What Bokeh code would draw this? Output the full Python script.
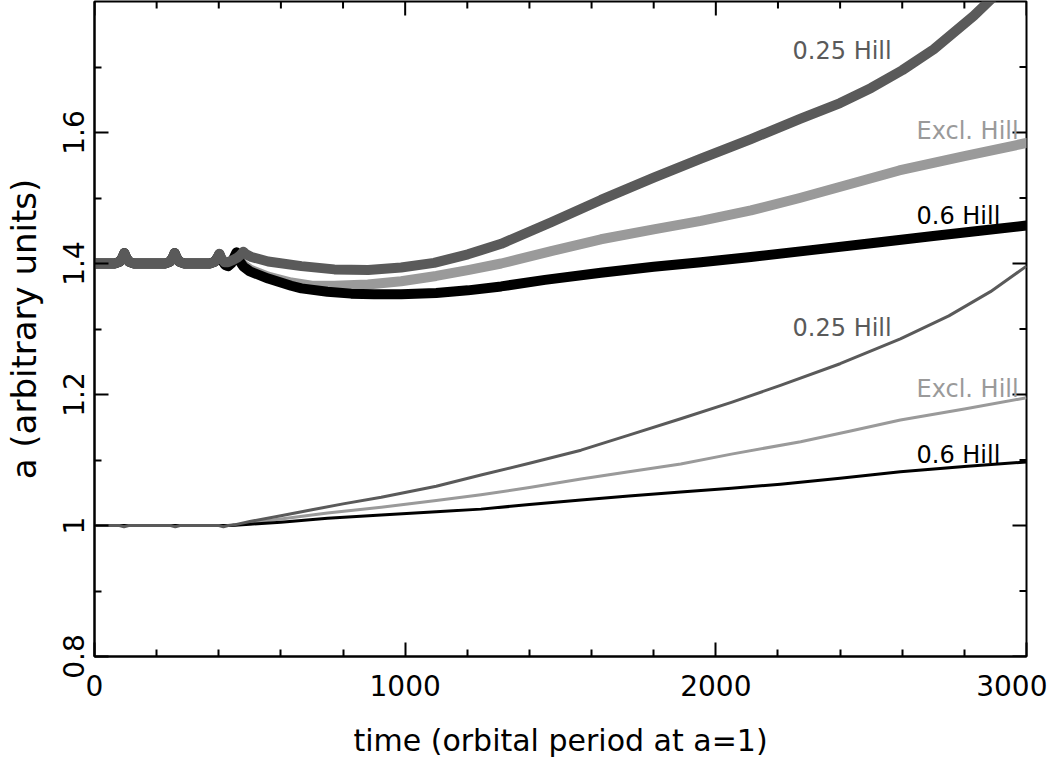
import math
from bokeh.plotting import figure
from bokeh.models import FixedTicker, Range1d, ColumnDataSource
from bokeh.embed import file_html
from bokeh.resources import INLINE
from bokeh.core.properties import value

# ---------------- data ----------------
# upper set (thick lines, start at a = 1.4)
t_up_025 = [0, 66, 81, 90, 96, 102, 111, 126, 228, 243, 252, 258, 264, 273, 288, 372, 387, 396, 402, 408,
            418, 430, 445, 460, 470, 479, 488, 505, 559, 666, 772, 881, 987, 1093, 1202, 1309, 1470,
            1630, 1800, 1952, 2113, 2273, 2400, 2500, 2600, 2701, 2830, 2900]
a_up_025 = [1.400, 1.400, 1.403, 1.409, 1.416, 1.409, 1.403, 1.400, 1.400, 1.403, 1.409, 1.416, 1.409, 1.403,
            1.400, 1.400, 1.403, 1.409, 1.415, 1.408, 1.402, 1.402, 1.405, 1.409, 1.413, 1.418, 1.414, 1.410,
            1.403, 1.396, 1.391, 1.390, 1.394, 1.401, 1.414, 1.430, 1.463, 1.497, 1.531, 1.560, 1.590,
            1.621, 1.645, 1.668, 1.695, 1.727, 1.778, 1.810]

t_up_excl = [0, 66, 81, 90, 96, 102, 111, 126, 228, 243, 252, 258, 264, 273, 288, 372, 387, 396, 402, 410,
             420, 430, 440, 450, 457, 465, 480, 500, 559, 633, 700, 772, 880, 987, 1100, 1202, 1309, 1470,
             1630, 1800, 1952, 2113, 2270, 2430, 2590, 2800, 3000]
a_up_excl = [1.400, 1.400, 1.403, 1.409, 1.416, 1.409, 1.403, 1.400, 1.400, 1.403, 1.409, 1.416, 1.409, 1.403,
             1.400, 1.400, 1.403, 1.409, 1.414, 1.405, 1.398, 1.396, 1.400, 1.409, 1.416, 1.406, 1.398, 1.391,
             1.380, 1.371, 1.366, 1.366, 1.368, 1.373, 1.381, 1.390, 1.400, 1.419, 1.437, 1.452, 1.465,
             1.481, 1.500, 1.521, 1.542, 1.564, 1.584]

t_up_06 = [0, 66, 81, 90, 96, 102, 111, 126, 228, 243, 252, 258, 264, 273, 288, 372, 387, 396, 402, 410,
           420, 430, 440, 450, 457, 465, 480, 500, 559, 633, 666, 750, 826, 900, 987, 1100, 1202, 1309, 1450,
           1630, 1800, 1952, 2113, 2300, 2500, 2700, 2850, 3000]
a_up_06 = [1.400, 1.400, 1.403, 1.409, 1.416, 1.409, 1.403, 1.400, 1.400, 1.403, 1.409, 1.416, 1.409, 1.403,
           1.400, 1.400, 1.403, 1.409, 1.414, 1.405, 1.398, 1.396, 1.400, 1.410, 1.417, 1.405, 1.395, 1.388,
           1.377, 1.366, 1.362, 1.357, 1.354, 1.353, 1.353, 1.355, 1.359, 1.365, 1.375, 1.386, 1.395, 1.402,
           1.410, 1.420, 1.431, 1.442, 1.450, 1.458]

# lower set (thin lines, start at a = 1.0)
t_lo_025 = [0, 80, 95, 110, 245, 260, 275, 400, 415, 430, 450, 500, 600, 700, 800, 923, 1100, 1244, 1400,
            1566, 1720, 1887, 2050, 2208, 2400, 2594, 2750, 2884, 3000]
a_lo_025 = [1.000, 1.000, 0.998, 1.000, 1.000, 0.998, 1.000, 1.000, 0.998, 1.000, 1.001, 1.006, 1.015, 1.024,
            1.033, 1.043, 1.060, 1.077, 1.095, 1.115, 1.138, 1.163, 1.188, 1.214, 1.247, 1.285, 1.320, 1.357,
            1.396]

t_lo_excl = [0, 440, 500, 600, 750, 923, 1100, 1244, 1400, 1566, 1720, 1887, 2050, 2273, 2430, 2594, 2800, 3000]
a_lo_excl = [1.000, 1.000, 1.004, 1.010, 1.019, 1.028, 1.038, 1.047, 1.058, 1.071, 1.082, 1.094, 1.109, 1.128,
             1.144, 1.161, 1.178, 1.195]

t_lo_06 = [0, 440, 500, 600, 750, 923, 1100, 1244, 1400, 1566, 1720, 1887, 2050, 2208, 2400, 2594, 2800, 3000]
a_lo_06 = [1.000, 1.000, 1.002, 1.005, 1.011, 1.016, 1.021, 1.025, 1.032, 1.039, 1.045, 1.051, 1.057, 1.063,
           1.072, 1.082, 1.090, 1.097]

# curve labels
label_text = ["0.25 Hill", "Excl. Hill", "0.6 Hill", "0.25 Hill", "Excl. Hill", "0.6 Hill"]
label_t = [2247, 2646, 2646, 2247, 2646, 2646]
label_a = [1.725, 1.602, 1.472, 1.302, 1.209, 1.108]
label_color = ["#5a5a5a", "#9a9a9a", "#000000", "#5a5a5a", "#9a9a9a", "#000000"]

# axes
x_start, x_end = 0, 3000
y_start, y_end = 0.8, 1.8
x_major = [0, 1000, 2000, 3000]
x_labels = ["0", "1000", "2000", "3000"]
x_minor = [200, 400, 600, 800, 1200, 1400, 1600, 1800, 2200, 2400, 2600, 2800]
y_major = [0.8, 1.0, 1.2, 1.4, 1.6]
y_labels = ["0.8", "1", "1.2", "1.4", "1.6"]
y_minor = [0.9, 1.1, 1.3, 1.5, 1.7]

DARK = "#5a5a5a"
LIGHT = "#9a9a9a"
BLACK = "#000000"
FONT = "DejaVu Sans"
MAJOR_LEN = 14
MINOR_LEN = 7

# ---------------- figure ----------------
p = figure(width=1047, height=760, x_range=Range1d(x_start, x_end), y_range=Range1d(y_start, y_end),
           output_backend="svg", toolbar_location=None,
           min_border_left=93, min_border_right=21, min_border_top=1, min_border_bottom=0)
p.background_fill_color = "white"
p.border_fill_color = "white"
p.outline_line_color = "black"
p.outline_line_width = 2
p.grid.visible = False


def style_axis(ax, ticks, minor, labels):
    ax.ticker = FixedTicker(ticks=ticks, minor_ticks=minor)
    ax.axis_line_color = "black"
    ax.axis_line_width = 2
    ax.major_tick_line_color = "black"
    ax.major_tick_line_width = 2
    ax.minor_tick_line_color = "black"
    ax.minor_tick_line_width = 2
    ax.major_tick_in = MAJOR_LEN
    ax.major_tick_out = 0
    ax.minor_tick_in = MINOR_LEN
    ax.minor_tick_out = 0
    ax.major_label_overrides = {t: l for t, l in zip(ticks, labels)}
    ax.major_label_text_font = FONT
    ax.major_label_text_font_size = "28px"
    ax.major_label_text_color = "black"
    ax.axis_label_text_font = FONT
    ax.axis_label_text_font_style = "normal"
    ax.axis_label_text_color = "black"


xb = p.xaxis[0]
yl = p.yaxis[0]
style_axis(xb, x_major, x_minor, x_labels)
style_axis(yl, y_major, y_minor, y_labels)
xb.axis_label = "time (orbital period at a=1)"
xb.axis_label_text_font_size = "30px"
xb.major_label_standoff = 18
xb.axis_label_standoff = 24
yl.axis_label = "a (arbitrary units)"
yl.axis_label_text_font_size = "34px"
yl.major_label_orientation = "vertical"
yl.major_label_standoff = 11
yl.axis_label_standoff = 16

# inward ticks on the top and right edges of the box
p.ray(x=x_major, y=[y_end] * len(x_major), length=MAJOR_LEN, length_units="screen",
      angle=-math.pi / 2, line_color="black", line_width=2)
p.ray(x=x_minor, y=[y_end] * len(x_minor), length=MINOR_LEN, length_units="screen",
      angle=-math.pi / 2, line_color="black", line_width=2)
p.ray(x=[x_end] * len(y_major), y=y_major, length=MAJOR_LEN, length_units="screen",
      angle=math.pi, line_color="black", line_width=2)
p.ray(x=[x_end] * len(y_minor), y=y_minor, length=MINOR_LEN, length_units="screen",
      angle=math.pi, line_color="black", line_width=2)

# lower thin curves
p.line(t_lo_excl, a_lo_excl, line_color=LIGHT, line_width=3, line_join="round")
p.line(t_lo_06, a_lo_06, line_color=BLACK, line_width=3, line_join="round")
p.line(t_lo_025, a_lo_025, line_color=DARK, line_width=3, line_join="round")

# upper thick curves
p.line(t_up_excl, a_up_excl, line_color=LIGHT, line_width=10, line_join="round", line_cap="round")
p.line(t_up_06, a_up_06, line_color=BLACK, line_width=10, line_join="round", line_cap="round")
p.line(t_up_025, a_up_025, line_color=DARK, line_width=10, line_join="round", line_cap="round")

src = ColumnDataSource(dict(x=label_t, y=label_a, text=label_text, color=label_color))
p.text(x="x", y="y", text="text", text_color="color", source=src,
       text_font=value(FONT), text_font_size=value("24px"),
       text_align="left", text_baseline="alphabetic")

open("out.html", "w").write(file_html(p, INLINE))
